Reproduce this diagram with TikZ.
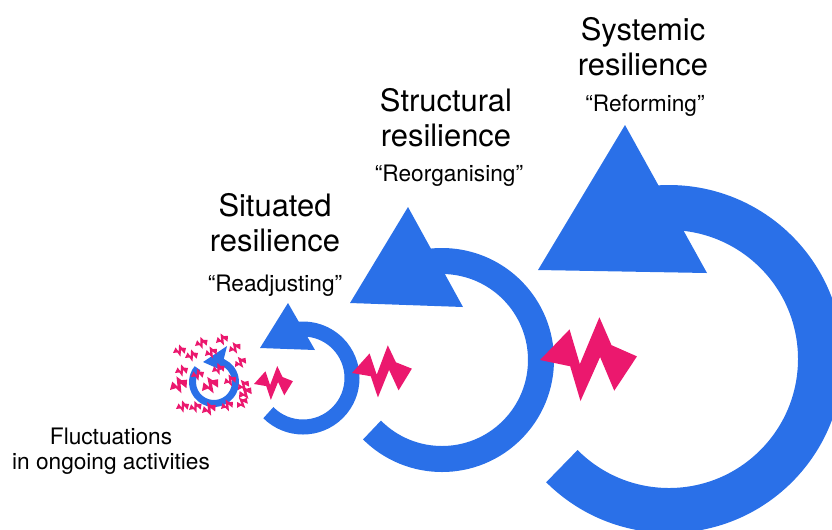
\documentclass[tikz,border=0pt]{standalone}
\usepackage{fontspec}
\setmainfont{TeX Gyre Heros}
\usetikzlibrary{positioning}
\definecolor{ringblue}{RGB}{42,112,232}
\definecolor{boltpink}{RGB}{235,24,110}
% zigzag band, left tip at the origin, right tip at (1,0)
\tikzset{bolt/.pic={\fill[boltpink] (0,0) -- (0.31,0.31) -- (0.41,-0.05) -- (0.62,0.43) -- (0.74,0.14) -- (1,0.02) -- (0.76,-0.33) -- (0.62,0.02) -- (0.41,-0.43) -- (0.31,-0.07) -- cycle;}}

\begin{document}
\begin{tikzpicture}[x=0.02cm, y=0.02cm, title/.style={align=center, inner sep=0, font=\fontsize{17.6}{19.8}\selectfont}, quote/.style={align=center, inner sep=0, font=\fontsize{12.9}{14.2}\selectfont}, ring/.style={draw=ringblue}]
    \useasboundingbox (0,0) rectangle (832,-529);
    
    %Centres
    \coordinate (tiny_c) at (214,-382);
    \coordinate (small_c) at (303,-378);
    \coordinate (mid_c) at (442,-360);
    \coordinate (big_c) at (669,-359);
    
    %Rings
    \draw[ring, line width=0.14cm] (tiny_c) ++(140:21.5) arc[start angle=140, end angle=440, radius=21.5];
    \draw[ring, line width=0.3cm] (small_c) ++(-135:49) arc[start angle=-135, end angle=105, radius=49];
    \draw[ring, line width=0.52cm] (mid_c) ++(-135:99) arc[start angle=-135, end angle=105, radius=99];
    \draw[ring, line width=0.9cm] (big_c) ++(-135:151.5) arc[start angle=-135, end angle=105, radius=151.5];
    
    %Heads
    \fill[ringblue] (227,-346) -- (203,-362) -- (221,-370) -- cycle;
    \fill[ringblue] (288,-303) -- (260,-348) -- (315,-350) -- cycle;
    \fill[ringblue] (408,-207) -- (350,-303) -- (463,-307) -- cycle;
    \fill[ringblue] (625,-125) -- (538,-270) -- (707,-273) -- cycle;
    
    %Bolts
    \foreach \bx/\by/\bs/\ba in {180/353/14/20, 202/346/14/25, 223/343/14/30, 192/358/14/20, 212/356/14/30, 236/352/14/35, 182/373/14/20, 198/377/14/20, 219/372/14/25, 242/367/14/40, 180/390/20/30, 212/391/20/35, 231/384/14/30, 245/390/14/40, 183/409/14/20, 196/410/14/25, 210/413/16/30, 228/409/14/30, 247/398/16/40, 244/408/14/45}
        \pic[scale=\bs, rotate=\ba] at (\bx-\bs/2,-\by) {bolt};
    \pic[scale=39, rotate=3] at (254,-384) {bolt};
    \pic[scale=60, rotate=3] at (352,-373) {bolt};
    \pic[scale=97, rotate=1] at (540,-360) {bolt};
    
    %Labels
    \node[title, anchor=base](sys_title) at (643,-75) {Systemic\\resilience};
    \node[quote, anchor=base](sys_quote) at (645,-111) {“Reforming”};
    \node[title, anchor=base](str_title) at (446,-146) {Structural\\resilience};
    \node[quote, anchor=base](str_quote) at (449,-181) {“Reorganising”};
    \node[title, anchor=base](sit_title) at (275,-251) {Situated\\resilience};
    \node[quote, anchor=base](sit_quote) at (275,-291) {“Readjusting”};
    \node[quote, anchor=base](fluct) at (111,-469) {Fluctuations\\in ongoing activities};
    
\end{tikzpicture}
\end{document}
